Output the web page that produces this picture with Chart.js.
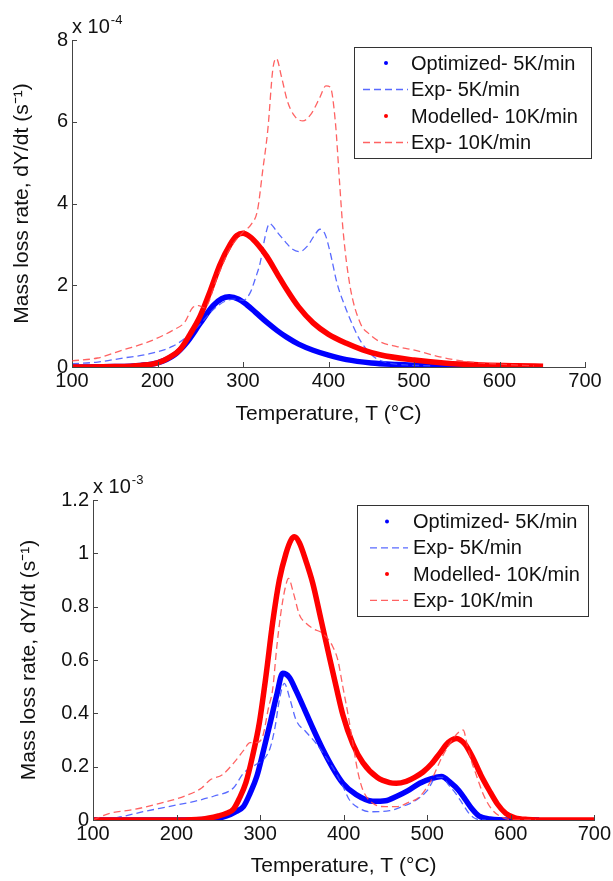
<!DOCTYPE html>
<html>
<head>
<meta charset="utf-8">
<script src="https://cdn.jsdelivr.net/npm/chart.js@4.4.1/dist/chart.umd.min.js"></script>
<style>
  body { margin: 0; background: #fff; }
  canvas { position: absolute; left: 0; }
  #topChart { top: 0; }
  #botChart { top: 440px; }
</style>
</head>
<body>
<canvas id="topChart" width="613" height="440"></canvas>
<canvas id="botChart" width="613" height="441"></canvas>
<script>
// ---- shared labels / ticks ----
const seriesNames = ['Optimized- 5K/min', 'Exp- 5K/min', 'Modelled- 10K/min', 'Exp- 10K/min'];
const xTicks = [100, 200, 300, 400, 500, 600, 700];
const topYTicks = [0, 2, 4, 6, 8];          // x 10^-4
const botYTicks = [0, 0.2, 0.4, 0.6, 0.8, 1, 1.2]; // x 10^-3

// ---- top chart data (dY/dt in 1e-4 s^-1) ----
const topT_opt5 = [100, 150, 180, 200, 220, 235, 250, 265, 275, 284, 295, 304, 315, 328, 340, 351, 365, 382, 400, 421, 450, 480, 520, 570, 627];
const topY_opt5 = [0, 0.01, 0.04, 0.1, 0.3, 0.62, 1.07, 1.5, 1.67, 1.72, 1.66, 1.53, 1.33, 1.09, 0.89, 0.73, 0.56, 0.41, 0.29, 0.18, 0.1, 0.06, 0.03, 0.015, 0.005];

const topT_exp5 = [100, 130, 160, 190, 218, 235, 250, 265, 280, 290, 300, 308, 315, 320, 326, 331, 340, 350, 358, 366, 375, 383, 390, 396, 402, 410, 419, 429, 437, 445, 455, 470, 490, 520];
const topY_exp5 = [0.08, 0.12, 0.22, 0.32, 0.51, 0.75, 1.05, 1.4, 1.62, 1.66, 1.63, 1.8, 2.2, 2.54, 3.2, 3.51, 3.3, 3.05, 2.88, 2.82, 2.95, 3.2, 3.37, 3.25, 2.8, 2.05, 1.5, 0.99, 0.65, 0.42, 0.22, 0.1, 0.05, 0.03];

const topT_mod10 = [100, 150, 180, 200, 215, 226, 238, 250, 262, 273, 285, 293, 300, 308, 318, 328, 340, 351, 365, 382, 400, 421, 440, 460, 500, 538, 580, 620, 651];
const topY_mod10 = [0, 0.01, 0.04, 0.1, 0.25, 0.42, 0.8, 1.25, 1.88, 2.5, 3.0, 3.22, 3.27, 3.19, 2.98, 2.7, 2.28, 1.9, 1.47, 1.08, 0.8, 0.58, 0.42, 0.3, 0.17, 0.09, 0.05, 0.03, 0.02];

const topT_exp10 = [100, 130, 160, 190, 218, 232, 241, 248, 255, 270, 285, 300, 310, 317, 323, 329, 335, 339, 345, 352, 360, 370, 380, 390, 397, 402, 408, 413, 417, 425, 437, 448, 460, 480, 499, 530, 562, 600, 640];
const topY_exp10 = [0.15, 0.22, 0.42, 0.62, 0.9, 1.1, 1.45, 1.5, 1.45, 2.2, 2.9, 3.3, 3.5, 3.84, 4.8, 5.8, 7.3, 7.55, 7.1, 6.5, 6.15, 6.02, 6.2, 6.6, 6.88, 6.85, 6.0, 4.5, 3.35, 2.0, 1.08, 0.8, 0.62, 0.5, 0.42, 0.25, 0.13, 0.07, 0.03];

// ---- bottom chart data (dY/dt in 1e-3 s^-1) ----
const botT_opt5 = [100, 200, 240, 260, 270, 280, 288, 296, 304, 312, 320, 327, 335, 343, 351, 363, 375, 387, 399, 415, 435, 450, 463, 477, 491, 505, 517, 528, 538, 546, 554, 562, 575, 600, 634];
const botY_opt5 = [0, 0, 0.003, 0.015, 0.03, 0.05, 0.1, 0.163, 0.26, 0.363, 0.47, 0.55, 0.535, 0.485, 0.43, 0.345, 0.265, 0.195, 0.138, 0.095, 0.07, 0.072, 0.088, 0.11, 0.138, 0.155, 0.163, 0.14, 0.11, 0.075, 0.04, 0.015, 0.004, 0, 0];

const botT_exp5 = [100, 130, 160, 190, 220, 245, 268, 280, 296, 305, 312, 318, 323, 329, 336, 343, 355, 367, 380, 391, 400, 407, 418, 431, 455, 470, 487, 500, 511, 518, 526, 534, 542, 550, 558, 570];
const botY_exp5 = [0, 0.01, 0.031, 0.05, 0.069, 0.09, 0.12, 0.175, 0.21, 0.23, 0.27, 0.35, 0.45, 0.512, 0.45, 0.375, 0.33, 0.2875, 0.23, 0.175, 0.12, 0.075, 0.045, 0.031, 0.035, 0.05, 0.075, 0.11, 0.16, 0.16, 0.13, 0.1, 0.0625, 0.025, 0.005, 0];

const botT_mod10 = [100, 200, 230, 250, 260, 268, 275, 283, 291, 299, 307, 315, 323, 331, 337, 341, 347, 355, 363, 373, 383, 391, 399, 411, 423, 440, 455, 463, 475, 485, 495, 505, 515, 525, 535, 545, 554, 564, 574, 584, 594, 605, 620, 650, 700];
const botY_mod10 = [0, 0, 0.003, 0.015, 0.025, 0.04, 0.08, 0.14, 0.24, 0.363, 0.54, 0.74, 0.9, 1.0, 1.05, 1.062, 1.04, 0.97, 0.888, 0.75, 0.61, 0.5, 0.395, 0.285, 0.215, 0.16, 0.14, 0.1375, 0.145, 0.16, 0.18, 0.21, 0.25, 0.29, 0.306, 0.285, 0.237, 0.17, 0.1125, 0.06, 0.025, 0.008, 0.002, 0, 0];

const botT_exp10 = [100, 120, 150, 180, 210, 230, 240, 255, 270, 280, 288, 295, 303, 310, 315, 320, 325, 330, 334, 340, 347, 355, 365, 375, 387, 393, 399, 405, 411, 417, 423, 435, 450, 463, 477, 491, 505, 518, 530, 538, 543, 548, 553, 558, 568, 578, 590, 605, 630];
const botY_exp10 = [0, 0.025, 0.04, 0.0625, 0.09, 0.12, 0.15, 0.17, 0.22, 0.26, 0.29, 0.29, 0.3125, 0.42, 0.49, 0.65, 0.78, 0.87, 0.906, 0.85, 0.77, 0.7375, 0.715, 0.7, 0.65, 0.6, 0.5, 0.4, 0.2875, 0.18, 0.1125, 0.0625, 0.05, 0.05, 0.065, 0.0875, 0.15, 0.2375, 0.3, 0.33, 0.3375, 0.28, 0.22, 0.175, 0.09, 0.0375, 0.01, 0, 0];

const FONT = '"Liberation Sans", Arial, Helvetica, sans-serif';
const zip = (xs, ys) => xs.map((x, i) => ({ x: x, y: ys[i] }));

// MATLAB-ish decorations: inward ticks, exponent label, boxed legend
const matlabAxes = {
  id: 'matlabAxes',
  afterDraw(chart, args, opts) {
    const { ctx, chartArea: a, scales: { x, y } } = chart;
    ctx.save();
    ctx.strokeStyle = '#444';
    ctx.lineWidth = 1;
    ctx.beginPath();
    x.ticks.forEach(t => {
      const px = Math.round(x.getPixelForValue(t.value)) + 0.5;
      ctx.moveTo(px, a.bottom); ctx.lineTo(px, a.bottom - 5);
    });
    y.ticks.forEach(t => {
      const py = Math.round(y.getPixelForValue(t.value)) + 0.5;
      ctx.moveTo(a.left, py); ctx.lineTo(a.left + 5, py);
    });
    ctx.stroke();

    // exponent label
    ctx.fillStyle = '#111';
    ctx.textBaseline = 'alphabetic';
    ctx.textAlign = 'left';
    ctx.font = '20px ' + FONT;
    ctx.fillText('x 10', a.left, a.top - 7);
    const w = ctx.measureText('x 10').width;
    ctx.font = '13px ' + FONT;
    ctx.fillText(opts.exponent, a.left + w + 1, a.top - 16);

    // legend
    const L = opts.legend;
    ctx.fillStyle = '#fff';
    ctx.fillRect(L.left, L.top, L.width, L.height);
    ctx.strokeStyle = '#333';
    ctx.strokeRect(L.left + 0.5, L.top + 0.5, L.width, L.height);
    chart.data.datasets.forEach((ds, i) => {
      const cy = L.top + L.first + i * L.step;
      if (ds.borderDash && ds.borderDash.length) {
        ctx.strokeStyle = ds.borderColor;
        ctx.lineWidth = 1.3;
        ctx.setLineDash(ds.borderDash);
        ctx.beginPath();
        ctx.moveTo(L.left + L.symL, cy); ctx.lineTo(L.left + L.symR, cy);
        ctx.stroke();
        ctx.setLineDash([]);
      } else {
        ctx.fillStyle = ds.borderColor;
        ctx.beginPath();
        ctx.arc(L.left + L.dot, cy, 2, 0, Math.PI * 2);
        ctx.fill();
      }
      ctx.fillStyle = '#111';
      ctx.font = '20px ' + FONT;
      ctx.textBaseline = 'middle';
      ctx.fillText(ds.label, L.left + L.text, cy + 1);
    });
    ctx.restore();
  }
};

function makeDatasets(t1, y1, t2, y2, t3, y3, t4, y4) {
  return [
    { label: seriesNames[0], data: zip(t1, y1), borderColor: '#0000ff', borderWidth: 5.5, order: 3 },
    { label: seriesNames[1], data: zip(t2, y2), borderColor: 'rgba(60,80,255,0.85)', borderWidth: 1.3, borderDash: [7, 4], order: 2 },
    { label: seriesNames[2], data: zip(t3, y3), borderColor: '#ff0000', borderWidth: 5.5, order: 1 },
    { label: seriesNames[3], data: zip(t4, y4), borderColor: 'rgba(255,70,70,0.85)', borderWidth: 1.3, borderDash: [7, 4], order: 0 }
  ];
}

function makeChart(id, datasets, yTicks, cfg) {
  return new Chart(document.getElementById(id).getContext('2d'), {
    type: 'line',
    data: { datasets: datasets },
    options: {
      responsive: false,
      animation: false,
      layout: { padding: { top: cfg.padTop, right: cfg.padRight, left: 0, bottom: 0 } },
      elements: {
        point: { radius: 0 },
        line: { tension: 0.4, cubicInterpolationMode: 'monotone', fill: false }
      },
      scales: {
        x: {
          type: 'linear', min: 100, max: 700,
          afterBuildTicks: s => { s.ticks = xTicks.map(v => ({ value: v })); },
          afterFit: s => { s.height = cfg.xHeight; },
          grid: { display: false, drawTicks: false },
          border: { display: true, color: '#444', width: 1 },
          ticks: { color: '#111', font: { family: FONT, size: 20 }, padding: 2, maxRotation: 0 },
          title: { display: true, text: 'Temperature, T (°C)', color: '#111', font: { family: FONT, size: 21 }, padding: { top: 0, bottom: cfg.xTitlePad } }
        },
        y: {
          min: yTicks[0], max: yTicks[yTicks.length - 1],
          afterBuildTicks: s => { s.ticks = yTicks.map(v => ({ value: v })); },
          afterFit: s => { s.width = cfg.yWidth; },
          grid: { display: false, drawTicks: false },
          border: { display: true, color: '#444', width: 1 },
          ticks: { color: '#111', font: { family: FONT, size: 20 }, padding: 4, callback: v => String(+v.toFixed(1)) },
          title: { display: true, text: 'Mass loss rate, dY/dt (s⁻¹)', color: '#111', font: { family: FONT, size: 21 }, padding: { top: cfg.yTitlePad, bottom: 0 } }
        }
      },
      plugins: {
        legend: { display: false },
        tooltip: { enabled: false },
        matlabAxes: { exponent: cfg.exponent, legend: cfg.legend }
      }
    },
    plugins: [matlabAxes]
  });
}

makeChart('topChart',
  makeDatasets(topT_opt5, topY_opt5, topT_exp5, topY_exp5, topT_mod10, topY_mod10, topT_exp10, topY_exp10),
  topYTicks,
  { padTop: 40, padRight: 28, xHeight: 73, yWidth: 72, xTitlePad: 13, yTitlePad: 10, exponent: '-4',
    legend: { left: 354, top: 47, width: 237, height: 111, first: 16, step: 26.5, symL: 9, symR: 54, dot: 32, text: 57 } });

makeChart('botChart',
  makeDatasets(botT_opt5, botY_opt5, botT_exp5, botY_exp5, botT_mod10, botY_mod10, botT_exp10, botY_exp10),
  botYTicks,
  { padTop: 60, padRight: 18, xHeight: 61, yWidth: 93, xTitlePad: 2, yTitlePad: 17, exponent: '-3',
    legend: { left: 357, top: 65, width: 231, height: 111, first: 16.5, step: 26.3, symL: 13, symR: 51, dot: 30, text: 56 } });
</script>
</body>
</html>
